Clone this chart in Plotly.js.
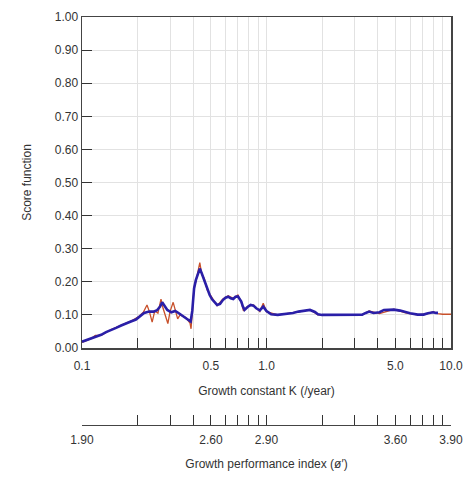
<!DOCTYPE html>
<html>
<head>
<meta charset="utf-8">
<script src="https://cdn.plot.ly/plotly-3.0.1.min.js"></script>
<style>html,body{margin:0;padding:0;background:#fff;}#chart{width:467px;height:477px;}</style>
</head>
<body>
<div id="chart"></div>
<script>
// Growth constant K values (/year) and smoothed score (blue)
const kBlue = [0.100,0.106,0.112,0.120,0.127,0.135,0.144,0.153,0.163,0.172,0.184,0.196,0.204,0.217,0.231,0.245,0.255,0.265,0.272,0.280,0.290,0.305,0.320,0.335,0.350,0.365,0.380,0.388,0.396,0.405,0.414,0.423,0.435,0.446,0.460,0.477,0.492,0.507,0.523,0.540,0.560,0.580,0.600,0.620,0.640,0.660,0.680,0.700,0.715,0.730,0.745,0.760,0.790,0.820,0.850,0.880,0.920,0.960,1.000,1.060,1.150,1.250,1.390,1.490,1.620,1.720,1.830,1.900,2.000,2.500,3.000,3.300,3.450,3.600,3.800,4.100,4.330,4.900,5.300,5.670,6.000,6.600,7.100,7.500,8.000,8.300,8.500];
const scoreBlue = [0.019,0.024,0.030,0.036,0.040,0.048,0.054,0.061,0.068,0.074,0.080,0.086,0.095,0.106,0.110,0.110,0.114,0.125,0.138,0.128,0.115,0.108,0.112,0.105,0.098,0.092,0.086,0.080,0.112,0.180,0.205,0.220,0.240,0.225,0.205,0.178,0.160,0.147,0.137,0.130,0.133,0.145,0.152,0.155,0.150,0.148,0.155,0.156,0.148,0.140,0.125,0.115,0.124,0.130,0.128,0.120,0.114,0.125,0.112,0.102,0.100,0.102,0.106,0.110,0.113,0.115,0.109,0.102,0.100,0.100,0.100,0.101,0.106,0.110,0.106,0.108,0.115,0.116,0.113,0.108,0.105,0.101,0.101,0.105,0.108,0.106,0.106];

// Raw score (red)
const kRed = [0.100,0.112,0.118,0.127,0.144,0.163,0.184,0.204,0.215,0.225,0.232,0.240,0.248,0.258,0.268,0.275,0.283,0.292,0.300,0.312,0.322,0.330,0.340,0.365,0.385,0.390,0.396,0.405,0.414,0.423,0.435,0.446,0.460,0.477,0.507,0.540,0.580,0.620,0.660,0.700,0.730,0.750,0.790,0.850,0.920,0.960,1.000,1.150,1.490,1.720,1.900,2.500,3.300,3.600,4.100,4.900,5.670,6.600,7.500,8.000,8.500,9.000,10.000];
const scoreRed = [0.017,0.028,0.038,0.038,0.056,0.068,0.081,0.096,0.108,0.130,0.110,0.078,0.112,0.105,0.148,0.120,0.100,0.074,0.110,0.138,0.110,0.088,0.100,0.092,0.075,0.058,0.105,0.185,0.200,0.228,0.258,0.222,0.210,0.175,0.150,0.128,0.148,0.158,0.150,0.160,0.138,0.112,0.126,0.130,0.110,0.135,0.110,0.100,0.109,0.116,0.100,0.100,0.100,0.112,0.104,0.117,0.106,0.100,0.104,0.110,0.104,0.102,0.102];

// Axis ticks
const kTicks = [0.1,0.2,0.3,0.4,0.5,0.6,0.7,0.8,0.9,1,2,3,4,5,6,7,8,9,10];
const kTickLabels = ['0.1','','','','0.5','','','','','1.0','','','','5.0','','','','','10.0'];
const phiTickLabels = ['1.90','','','','2.60','','','','','2.90','','','','3.60','','','','','3.90'];
const scoreTicks = [0,0.1,0.2,0.3,0.4,0.5,0.6,0.7,0.8,0.9,1.0];

const font = {family:'Liberation Sans, Arial, sans-serif', size:12, color:'#333'};

const traces = [
  {x:kRed, y:scoreRed, mode:'lines', line:{color:'#c8502a', width:1.3}, hoverinfo:'skip', showlegend:false},
  {x:kBlue, y:scoreBlue, mode:'lines', line:{color:'#2a1fa8', width:2.6}, hoverinfo:'skip', showlegend:false},
  {x:[kTicks[0], kTicks[kTicks.length-1]], y:[null,null], xaxis:'x2', yaxis:'y', mode:'lines', hoverinfo:'skip', showlegend:false}
];

const layout = {
  width:467, height:477,
  margin:{l:82, r:16, t:17, b:52},
  paper_bgcolor:'#fff', plot_bgcolor:'#fff',
  font:font,
  showlegend:false,
  xaxis:{
    type:'log', range:[-1,1], anchor:'y',
    tickvals:kTicks, ticktext:kTickLabels,
    ticks:'inside', ticklen:10, tickcolor:'#333', tickwidth:1,
    ticklabelstandoff:6,
    showline:true, linecolor:'#444', linewidth:1.5, mirror:true,
    showgrid:true, gridcolor:'#e2e2e2', gridwidth:1, zeroline:false,
    tickfont:font,
    title:{text:'Growth constant K (/year)', font:font, standoff:14}
  },
  xaxis2:{
    type:'log', range:[-1,1], overlaying:'x', anchor:'free', position:0, side:'bottom',
    tickvals:kTicks, ticktext:phiTickLabels,
    ticks:'inside', ticklen:10, tickcolor:'#333', tickwidth:1,
    ticklabelstandoff:3,
    showline:true, linecolor:'#444', linewidth:1.2,
    showgrid:false, zeroline:false,
    tickfont:font,
    title:{text:'Growth performance index (\u00f8\u2032)', font:font, standoff:14}
  },
  yaxis:{
    domain:[0.1887,1], range:[0,1],
    tickvals:scoreTicks, tickformat:'.2f',
    ticks:'inside', ticklen:10, tickcolor:'#333', tickwidth:1,
    showline:true, linecolor:'#444', linewidth:1.5, mirror:true,
    showgrid:true, gridcolor:'#e2e2e2', gridwidth:1, zeroline:false,
    tickfont:font,
    title:{text:'Score function', font:font, standoff:20}
  }
};

Plotly.newPlot('chart', traces, layout, {displayModeBar:false, staticPlot:true});
</script>
</body>
</html>
